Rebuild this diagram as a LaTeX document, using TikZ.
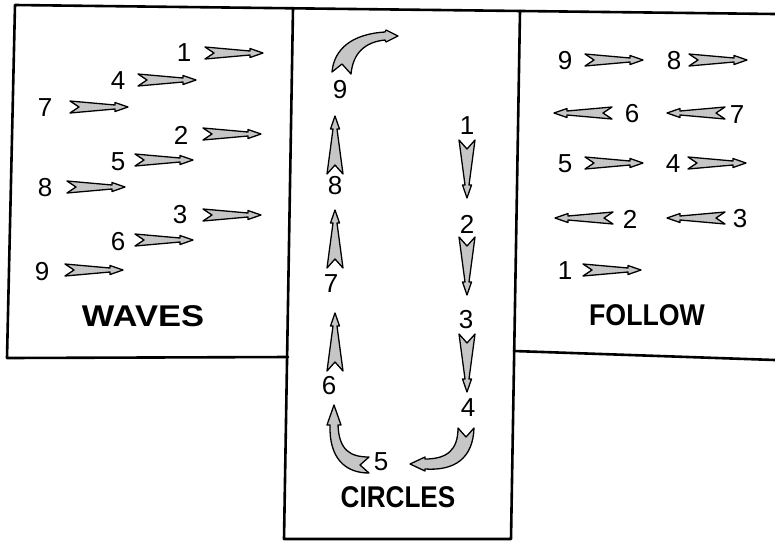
\documentclass[tikz,border=0pt]{standalone}
\usepackage{fontspec}
\setmainfont{Liberation Sans}
\usetikzlibrary{positioning}

\tikzset{
  frame/.style={line width=2.6pt, line cap=round, line join=round},
  fletchline/.style={draw=black, fill=gray!45, line width=1.3pt, line join=round},
  num/.style={font=\fontsize{26}{26}\selectfont, inner sep=0pt},
  title/.style={font=\fontsize{30}{30}\selectfont\bfseries, inner sep=0pt},
  pics/fletch/.style={code={
    \draw[fletchline] (0,#1) -- (45,2) -- (45,4.5) -- (58,0) -- (45,-4.5) -- (45,-2) -- (0,-#1) -- (9,0) -- cycle;
  }},
}

\begin{document}
\begin{tikzpicture}[x=1pt,y=-1pt]
\useasboundingbox (0,0) rectangle (775,542);
% frames
\coordinate (tl) at (15,5);
\coordinate (tr) at (775,14);
\coordinate (wbl) at (7,358);
\coordinate (wbr) at (288,357);
\coordinate (ctl) at (293,8);
\coordinate (cbl) at (284,539);
\coordinate (ctr) at (520,11);
\coordinate (cbr) at (511,539);
\coordinate (fbl) at (514,351);
\coordinate (fbr) at (775,360);
\draw[frame] (tr) -- (tl) -- (wbl) -- (wbr);
\draw[frame] (ctl) -- (cbl) -- (cbr) -- (ctr);
\draw[frame] (fbl) -- (fbr);
% waves
\node[num] (w1) at (184,53) {1}; \pic at (205,53) {fletch=6};
\node[num] (w4) at (118,81) {4}; \pic at (138,80) {fletch=6};
\node[num] (w7) at (45,108) {7}; \pic at (70,107) {fletch=6};
\node[num] (w2) at (181,135) {2}; \pic at (203,134) {fletch=6};
\node[num] (w5) at (118,162) {5}; \pic at (135,160) {fletch=6};
\node[num] (w8) at (45,188) {8}; \pic at (67,187) {fletch=6};
\node[num] (w3) at (180,215) {3}; \pic at (203,215) {fletch=6};
\node[num] (w6) at (118,242) {6}; \pic at (135,240) {fletch=6};
\node[num] (w9) at (42,272) {9}; \pic at (65,270) {fletch=6};
\node[title, xscale=1.15] (waves) at (143,316) {WAVES};
% circles
\node[num] (c1) at (467,126) {1}; \pic[rotate=-90] at (467,140) {fletch=8};
\node[num] (c2) at (467,224) {2}; \pic[rotate=-90] at (467,237) {fletch=8};
\node[num] (c3) at (466,320) {3}; \pic[rotate=-90] at (467,334) {fletch=8};
\node[num] (c4) at (468,408) {4};
\draw[fletchline] (474,428) .. controls (473,458) and (455,471) .. (425,469) -- (425,471) -- (410,464)
  -- (425,457) -- (425,459) .. controls (447,459) and (458,450) .. (458,428) -- (466,437) -- cycle;
\node[num] (c5) at (381,462) {5};
\draw[fletchline] (369,473) .. controls (345,473) and (329,458) .. (330,425) -- (327,425) -- (334,405)
  -- (341,425) -- (338,425) .. controls (339,450) and (350,457) .. (369,457) -- (360,465) -- cycle;
\node[num] (c6) at (329,386) {6}; \pic[rotate=90] at (335,371) {fletch=8};
\node[num] (c7) at (331,284) {7}; \pic[rotate=90] at (335,268) {fletch=8};
\node[num] (c8) at (335,186) {8}; \pic[rotate=90] at (335,174) {fletch=8};
\node[num] (c9) at (340,90) {9};
\draw[fletchline] (332,72) .. controls (334,49) and (352,34) .. (385,32) -- (386,30) -- (398,36)
  -- (386,42) -- (385,40) .. controls (365,42) and (353,53) .. (351,74) -- (342,64) -- cycle;
\node[title, xscale=0.87] (circles) at (398,497) {CIRCLES};
% follow
\node[num] (f9) at (565,61) {9}; \pic at (585,60) {fletch=6};
\node[num] (f8) at (674,61) {8}; \pic at (689,60) {fletch=6};
\node[num] (f6) at (632,114) {6}; \pic[rotate=180] at (612,113) {fletch=6};
\node[num] (f7) at (737,115) {7}; \pic[rotate=180] at (725,113) {fletch=6};
\node[num] (f5) at (565,164) {5}; \pic at (585,163) {fletch=6};
\node[num] (f4) at (673,164) {4}; \pic at (688,163) {fletch=6};
\node[num] (f2) at (630,219) {2}; \pic[rotate=180] at (613,218) {fletch=6};
\node[num] (f3) at (740,219) {3}; \pic[rotate=180] at (725,218) {fletch=6};
\node[num] (f1) at (565,271) {1}; \pic at (583,270) {fletch=6};
\node[title, xscale=0.89] (follow) at (647,315) {FOLLOW};
\end{tikzpicture}
\end{document}
